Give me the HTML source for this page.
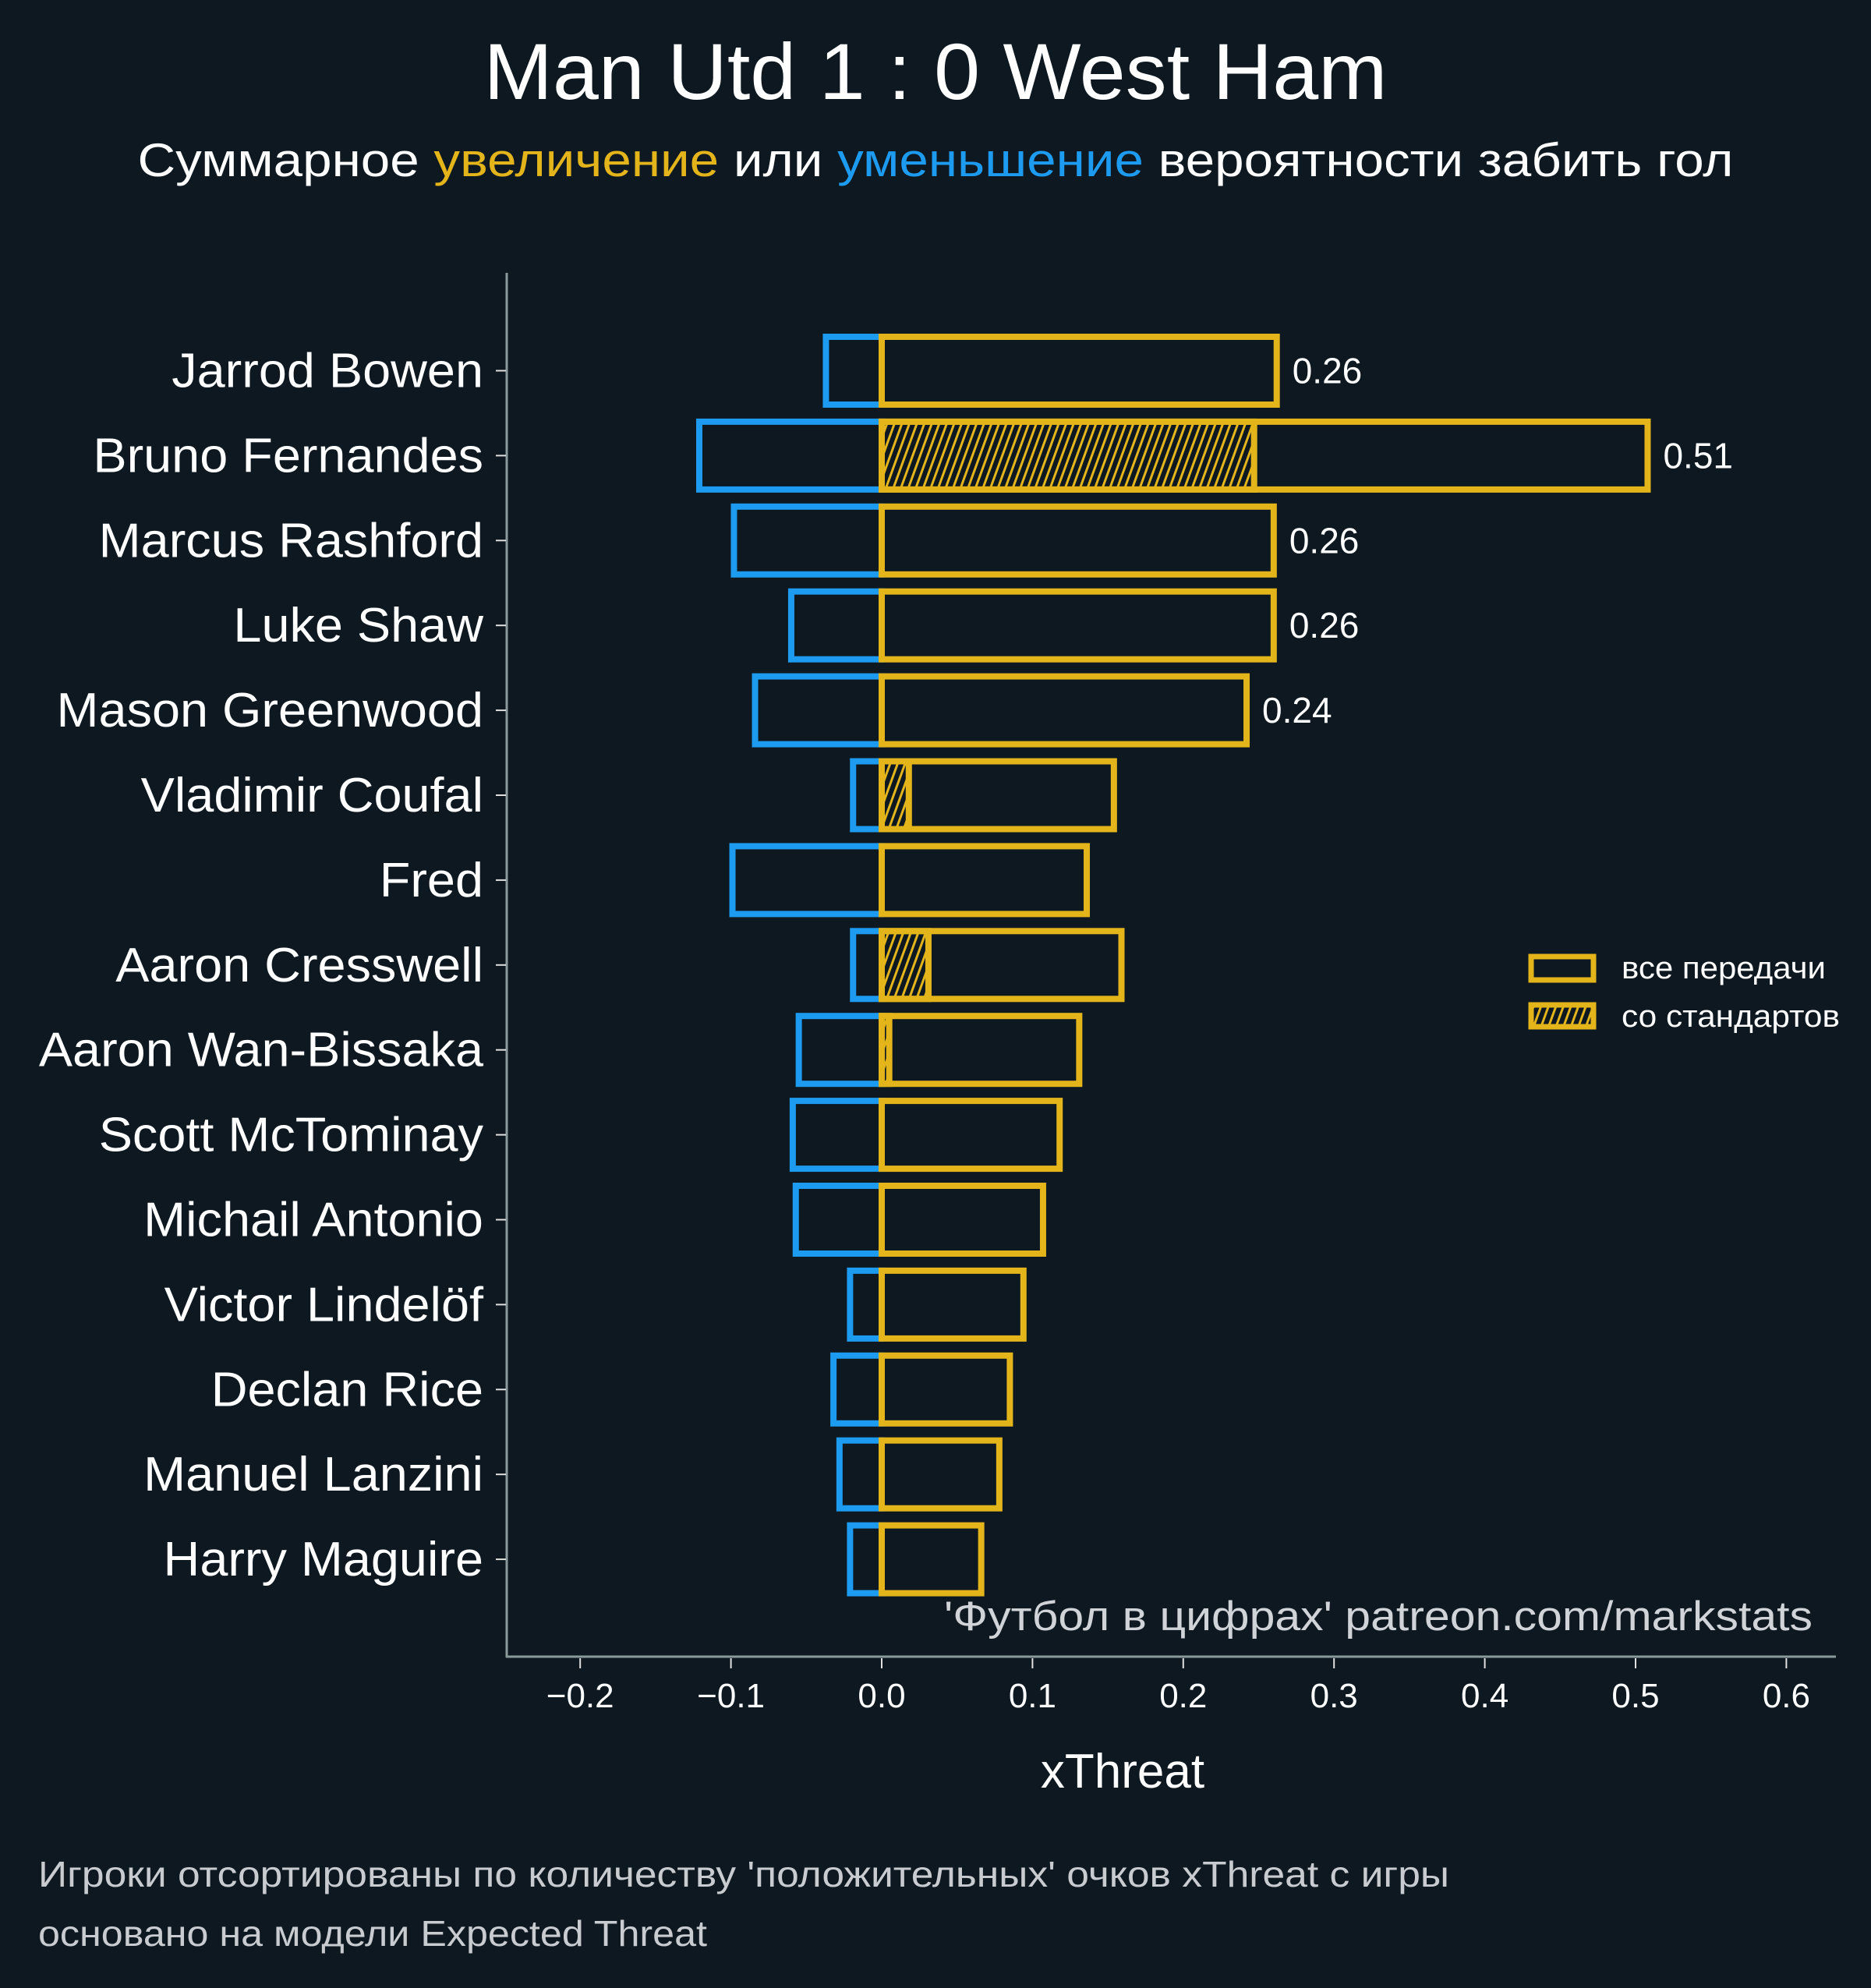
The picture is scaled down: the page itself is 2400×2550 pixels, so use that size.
<!DOCTYPE html>
<html><head><meta charset="utf-8"><style>
html,body{margin:0;padding:0;background:#0e1821;}
svg{display:block;font-family:"Liberation Sans","DejaVu Sans",sans-serif;}
</style></head><body>
<svg id="chart" width="2400" height="2550" viewBox="0 0 2400 2550">
<rect width="2400" height="2550" fill="#0e1821"/>
<defs>
<pattern id="hatch" patternUnits="userSpaceOnUse" width="18" height="18" patternTransform="rotate(20)">
<line x1="4" y1="-2" x2="4" y2="20" stroke="#e3b51b" stroke-width="3"/>
<line x1="13" y1="-2" x2="13" y2="20" stroke="#e3b51b" stroke-width="3"/>
</pattern>
</defs>
<text x="1200" y="127" font-size="102" fill="#ffffff" text-anchor="middle" data-stretch="1159">Man Utd 1 : 0 West Ham</text>
<text x="1200" y="226" font-size="60" fill="#ffffff" text-anchor="middle" data-stretch="2047">Суммарное <tspan fill="#e3b51b">увеличение</tspan> или <tspan fill="#1d9bf0">уменьшение</tspan> вероятности забить гол</text>
<g id="axes"></g>
<g id="bars"></g>
<text x="2325" y="2091" font-size="53" fill="#d0d4d8" text-anchor="end" data-stretch="1114">'Футбол в цифрах' patreon.com/markstats</text>
<text x="1440" y="2293" font-size="62" fill="#ffffff" text-anchor="middle">xThreat</text>
<text x="49" y="2420" font-size="46" fill="#c8ccd0" data-stretch="1810">Игроки отсортированы по количеству 'положительных' очков xThreat с игры</text>
<text x="49" y="2496" font-size="46" fill="#c8ccd0" data-stretch="858">основано на модели Expected Threat</text>
<g>
<rect x="1964" y="1227" width="80" height="30" fill="none" stroke="#e3b51b" stroke-width="7"/>
<text x="2080" y="1255" font-size="40" fill="#ffffff" data-stretch="262">все передачи</text>
<rect x="1964" y="1289" width="80" height="28" fill="url(#hatch)" stroke="#e3b51b" stroke-width="7"/>
<text x="2080" y="1317" font-size="40" fill="#ffffff" data-stretch="280">со стандартов</text>
</g>
</svg>
<script>
const players = ["Jarrod Bowen","Bruno Fernandes","Marcus Rashford","Luke Shaw","Mason Greenwood","Vladimir Coufal","Fred","Aaron Cresswell","Aaron Wan-Bissaka","Scott McTominay","Michail Antonio","Victor Lindelöf","Declan Rice","Manuel Lanzini","Harry Maguire"];
const positiveValues = [0.262,0.508,0.26,0.26,0.242,0.154,0.136,0.159,0.131,0.118,0.107,0.094,0.085,0.078,0.066];
const negativeValues = [-0.037,-0.121,-0.098,-0.06,-0.084,-0.019,-0.099,-0.019,-0.055,-0.059,-0.057,-0.021,-0.032,-0.028,-0.021];
const setPieceValues = [0,0.247,0,0,0,0.018,0,0.031,0.005,0,0,0,0,0,0];
const valueLabels = ["0.26","0.51","0.26","0.26","0.24",null,null,null,null,null,null,null,null,null,null];
const xTicks = [-0.2,-0.1,0.0,0.1,0.2,0.3,0.4,0.5,0.6];
const xTickLabels = ["\u22120.2","\u22120.1","0.0","0.1","0.2","0.3","0.4","0.5","0.6"];

const NS="http://www.w3.org/2000/svg";
const X0=1131, XS=1934;
function xScale(v){return X0+v*XS;}
const Y0=475.5, YS=108.9;
function yScale(i){return Y0+i*YS;}
const axes=document.getElementById('axes'), bars=document.getElementById('bars');
function mk(tag,attrs,parent){const e=document.createElementNS(NS,tag);for(const k in attrs)e.setAttribute(k,attrs[k]);parent.appendChild(e);return e;}

let l=mk('line',{x1:650,y1:350,x2:650,y2:2126,stroke:'#8a9a9a','stroke-width':3},axes);


l=mk('line',{x1:649,y1:2125,x2:2355,y2:2125,stroke:'#8a9a9a','stroke-width':3},axes);



xTicks.forEach((t,i)=>{
  const x=xScale(t);
  const tk=mk('line',{x1:x,y1:2127,x2:x,y2:2140,stroke:'#e0e0e0','stroke-width':2},axes);
  
  
  const tx=mk('text',{x:x,y:2190,'font-size':44,fill:'#ffffff','text-anchor':'middle'},axes);
  tx.textContent=xTickLabels[i];
  
  
});

const H=87;
players.forEach((p,i)=>{
  const y=yScale(i);
  const tk=mk('line',{x1:636,y1:y,x2:649,y2:y,stroke:'#e0e0e0','stroke-width':2},axes);
  
  
  const lb=mk('text',{x:620,y:y+21,'font-size':62,fill:'#ffffff','text-anchor':'end'},axes);
  lb.textContent=p;
  
  
  lb.setAttribute('data-scale','1.045');

  const xn=xScale(negativeValues[i]);
  const nb=mk('rect',{x:xn,y:y-H/2,width:X0-xn,height:H,fill:'none',stroke:'#1d9bf0','stroke-width':8},bars);
  
  

  if(setPieceValues[i]>0){
    const hb=mk('rect',{x:X0,y:y-H/2,width:xScale(setPieceValues[i])-X0,height:H,fill:'url(#hatch)',stroke:'#e3b51b','stroke-width':8},bars);
    
    
  }
  const xp=xScale(positiveValues[i]);
  const pb=mk('rect',{x:X0,y:y-H/2,width:xp-X0,height:H,fill:'none',stroke:'#e3b51b','stroke-width':8},bars);
  
  

  if(valueLabels[i]){
    const vt=mk('text',{x:xp+20,y:y+16,'font-size':46,fill:'#ffffff'},bars);
    vt.textContent=valueLabels[i];
    
    
  }
});

document.querySelectorAll('[data-stretch]').forEach(e=>{
  e.setAttribute('textLength',e.getAttribute('data-stretch'));
  e.setAttribute('lengthAdjust','spacingAndGlyphs');
});
document.querySelectorAll('[data-scale]').forEach(e=>{
  const w=e.getComputedTextLength()*parseFloat(e.getAttribute('data-scale'));
  e.setAttribute('textLength',w);
  e.setAttribute('lengthAdjust','spacingAndGlyphs');
});
</script>
</body></html>
